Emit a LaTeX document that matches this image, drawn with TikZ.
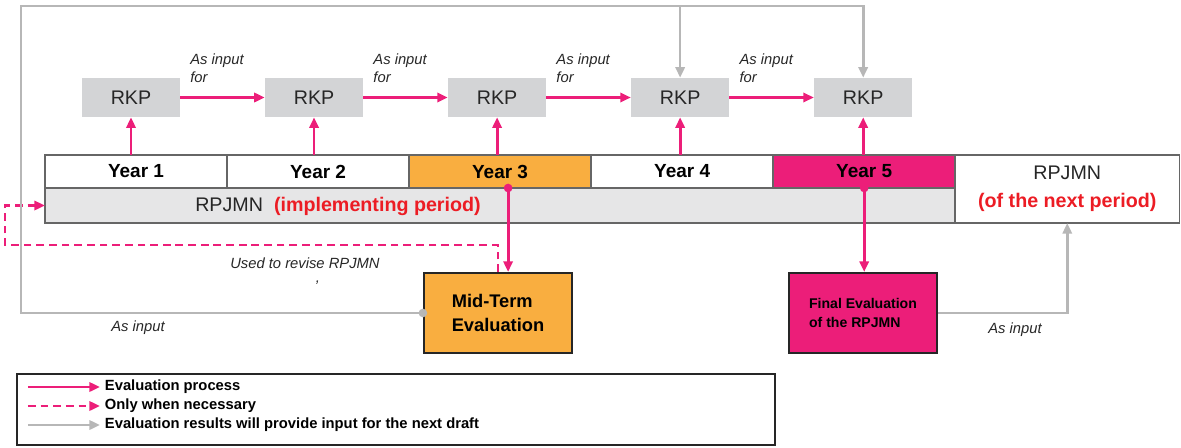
\documentclass[tikz,border=0pt]{standalone}
\usepackage{fontspec}
\setmainfont{Liberation Sans}
\usepackage{tikz}
\usetikzlibrary{positioning, arrows.meta}

\definecolor{evalpink}{HTML}{EC1E79}
\definecolor{midorange}{HTML}{F9AE40}
\definecolor{rkpgray}{HTML}{D3D4D6}
\definecolor{rowgray}{HTML}{E6E6E7}
\definecolor{inputgray}{HTML}{B7B7B7}
\definecolor{labelred}{HTML}{EC1C24}
\definecolor{framegray}{HTML}{666666}
\definecolor{textdark}{HTML}{262626}

\begin{document}
\begin{tikzpicture}[x=0.025cm, y=-0.025cm, node distance=4.575cm]
	\tikzstyle{rkp} = [rectangle, fill=rkpgray, text=textdark, minimum width=2.45cm, minimum height=0.975cm, font=\fontsize{14}{16}\selectfont]
	\tikzstyle{yearbox} = [rectangle, draw=framegray, line width=1.1pt, outer sep=0pt, minimum width=4.55cm, minimum height=0.825cm, font=\fontsize{13.5}{15}\selectfont\bfseries]
	\tikzstyle{evalbox} = [rectangle, draw=black!85, line width=1.5pt, align=left, minimum width=3.7cm, minimum height=2cm]
	\tikzstyle{arrow} = [line width=2pt, evalpink, -{Triangle[length=7.5pt,width=6.5pt]}]
	\tikzstyle{maybearrow} = [arrow, dash pattern=on 5.5pt off 3.5pt]
	\tikzstyle{inputarrow} = [line width=1.9pt, inputgray, -{Triangle[length=7.5pt,width=6.5pt]}]
	\tikzstyle{italicnote} = [font=\fontsize{10.5}{12.5}\selectfont\itshape, text=textdark, align=left]
	\tikzstyle{legendtext} = [font=\fontsize{10.5}{12}\selectfont\bfseries, anchor=west]

	\useasboundingbox (0,0) rectangle (1181,447);

	\node [rkp] (rkp1) at (131,97.5) {RKP};
	\node [rkp, right of=rkp1] (rkp2) {RKP};
	\node [rkp, right of=rkp2] (rkp3) {RKP};
	\node [rkp, right of=rkp3] (rkp4) {RKP};
	\node [rkp, right of=rkp4] (rkp5) {RKP};

	\node [yearbox] (year1) at (136,171.5) {Year 1};
	\node [yearbox, right=0pt of year1] (year2) {Year 2};
	\node [yearbox, fill=midorange, right=0pt of year2] (year3) {Year 3};
	\node [yearbox, right=0pt of year3] (year4) {Year 4};
	\node [yearbox, fill=evalpink, right=0pt of year4] (year5) {Year 5};

	\node [rectangle, draw=framegray, line width=1.1pt, fill=rowgray, outer sep=0pt, minimum width=22.75cm, minimum height=0.875cm, below=0pt of year3] (impl) {};
	\node [font=\fontsize{14}{16}\selectfont, text=textdark] (impltext) at (338,206) {RPJMN\ \ \textcolor{labelred}{\bfseries(implementing period)}};
	\node [rectangle, draw=framegray, line width=1.1pt, outer sep=0pt, minimum width=5.6cm, minimum height=1.7cm, align=center, text=textdark, font=\fontsize{14}{20}\selectfont, anchor=north west] (nextplan) at (year5.north east) {RPJMN\\\textcolor{labelred}{\bfseries(of the next period)}};

	\node [evalbox, fill=midorange, font=\fontsize{13}{16.5}\selectfont\bfseries] (midterm) at (498,313) {Mid-Term\\Evaluation};
	\node [evalbox, fill=evalpink, font=\fontsize{10}{13.5}\selectfont\bfseries] (finaleval) at (863,313) {Final Evaluation\\of the RPJMN};

	\foreach \n in {1,...,5}
		\draw [arrow] (rkp\n.south |- year\n.north) -- (rkp\n.south);
	\foreach \a/\b in {1/2,2/3,3/4,4/5}
		\draw [arrow] (rkp\a) -- (rkp\b) node [italicnote, pos=0, anchor=south west, xshift=0.1cm, yshift=0.22cm] {As input\\for};

	\draw [arrow, {Circle[length=6pt]}-{Triangle[length=7.5pt,width=6.5pt]}, shorten <=-3pt] ([xshift=0.2cm]year3.south) -- ([xshift=0.2cm]year3.south |- midterm.north);
	\draw [arrow, {Circle[length=6pt]}-{Triangle[length=7.5pt,width=6.5pt]}, shorten <=-3pt] (year5.south) -- (year5.south |- finaleval.north);

	\coordinate (revise) at (5,245);
	\draw [maybearrow] (midterm.north) |- (revise) |- (impl.west);
	\node [italicnote] (revisenote) at (305,263) {Used to revise RPJMN};
	\node [italicnote] (revisetick) at (318,283) {,};

	\coordinate (loopcorner) at (21,6);
	\draw [inputarrow, {Circle[length=6pt]}-{Triangle[length=7.5pt,width=6.5pt]}, shorten <=-3pt] (midterm.west) -| (loopcorner) -| (rkp5.north);
	\draw [inputarrow] (rkp4.north |- loopcorner) -- (rkp4.north);
	\node [italicnote] (inputnote1) at (138,328) {As input};

	\draw [inputarrow] (finaleval.east) -| (nextplan.south);
	\node [italicnote] (inputnote2) at (1015,330) {As input};

	\node [rectangle, draw=black!85, line width=1.5pt, minimum width=18.95cm, minimum height=1.775cm] (legend) at (396,409.5) {};
	\node [legendtext] (lgprocess) at (100,387) {Evaluation process};
	\node [legendtext] (lgneeded) at (100,406) {Only when necessary};
	\node [legendtext] (lginput) at (100,425) {Evaluation results will provide input for the next draft};
	\draw [arrow] ([xshift=-1.8cm]lgprocess.west) -- (lgprocess.west);
	\draw [maybearrow] ([xshift=-1.8cm]lgneeded.west) -- (lgneeded.west);
	\draw [inputarrow] ([xshift=-1.8cm]lginput.west) -- (lginput.west);
\end{tikzpicture}
\end{document}
